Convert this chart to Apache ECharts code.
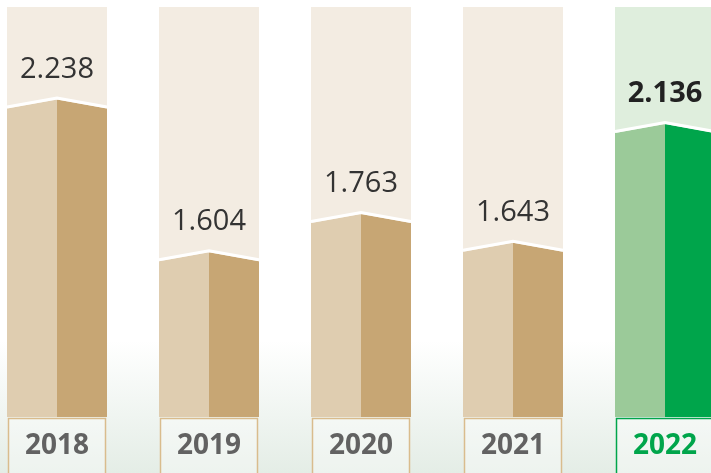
<!DOCTYPE html>
<html><head><meta charset="utf-8">
<script src="https://cdn.jsdelivr.net/npm/echarts@6/dist/echarts.min.js"></script>
<style>html,body{margin:0;padding:0;background:#fff}#c{width:711px;height:473px}</style>
</head><body><div id="c"></div>
<script>
const years = ['2018', '2019', '2020', '2021', '2022'];
const values = [2.238, 1.604, 1.763, 1.643, 2.136];
const highlight = [false, false, false, false, true];
const axisMin = 0.92;
const axisMax = 2.622;
const xMin = -0.375;
const xMax = 4.3026;

const palette = {
  normal: { bg: '#f3ece2', left: '#dfcdb0', right: '#c7a674', label: '#333333', weight: 'normal', box: '#d9bc8d', year: '#626262' },
  hi: { bg: '#dfeedd', left: '#9bca99', right: '#00a54b', label: '#222222', weight: 'bold', box: '#00a54b', year: '#00a54b' }
};

const chart = echarts.init(document.getElementById('c'), null, { renderer: 'canvas' });
const font = '"Open Sans", "Noto Sans", sans-serif';

function renderItem(params, api) {
  const i = api.value(0);
  const v = api.value(1);
  const pal = highlight[i] ? palette.hi : palette.normal;
  const base = api.coord([i, axisMin]);
  const top = api.coord([i, axisMax]);
  const peak = api.coord([i, v]);
  const bw = 100, half = bw / 2;
  const xc = base[0], x0 = xc - half, x1 = xc + half;
  const yb = base[1], yp = peak[1], ye = yp + 9;
  return {
    type: 'group',
    children: [
      { type: 'rect', shape: { x: x0, y: top[1], width: bw, height: yb - top[1] }, style: { fill: pal.bg } },
      { type: 'polygon', shape: { points: [[x0, yb], [x0, ye], [xc, yp], [xc, yb]] }, style: { fill: pal.left } },
      { type: 'polygon', shape: { points: [[xc, yb], [xc, yp], [x1, ye], [x1, yb]] }, style: { fill: pal.right } },
      { type: 'polyline', shape: { points: [[x0, ye - 1.5], [xc, yp - 1.5], [x1, ye - 1.5]] }, style: { stroke: '#ffffff', lineWidth: 3, fill: null } },
      { type: 'text', style: { text: v.toFixed(3), x: xc, y: yp - 30, align: 'center', verticalAlign: 'middle',
          fontSize: 29, fontFamily: font, fontWeight: pal.weight, fill: pal.label } },
      { type: 'rect', shape: { x: x0 + 1.5, y: yb + 1.5, width: bw - 3, height: 70 }, style: { fill: 'rgba(255,255,255,0.35)', stroke: pal.box, lineWidth: 1.5 } },
      { type: 'text', style: { text: years[i], x: xc, y: yb + 29, align: 'center', verticalAlign: 'middle',
          fontSize: 28, fontFamily: font, fontWeight: 'bold', fill: pal.year } }
    ]
  };
}

chart.setOption({
  animation: false,
  backgroundColor: '#ffffff',
  graphic: [{
    type: 'rect', z: -10, left: 0, top: 0,
    shape: { width: 711, height: 473 },
    style: { fill: new echarts.graphic.LinearGradient(0, 0, 0, 1, [
      { offset: 0, color: '#ffffff' }, { offset: 0.72, color: '#ffffff' }, { offset: 1, color: '#e4ede6' }
    ]) }
  }],
  grid: { left: 0, right: 0, top: 7, bottom: 56, containLabel: false },
  xAxis: { type: 'value', min: xMin, max: xMax, show: false, splitLine: { show: false } },
  yAxis: { type: 'value', min: axisMin, max: axisMax, show: false, splitLine: { show: false } },
  series: [{
    type: 'custom', renderItem: renderItem, clip: false,
    encode: { x: 0, y: 1 },
    data: values.map((v, i) => [i, v])
  }]
});
</script>
</body></html>
